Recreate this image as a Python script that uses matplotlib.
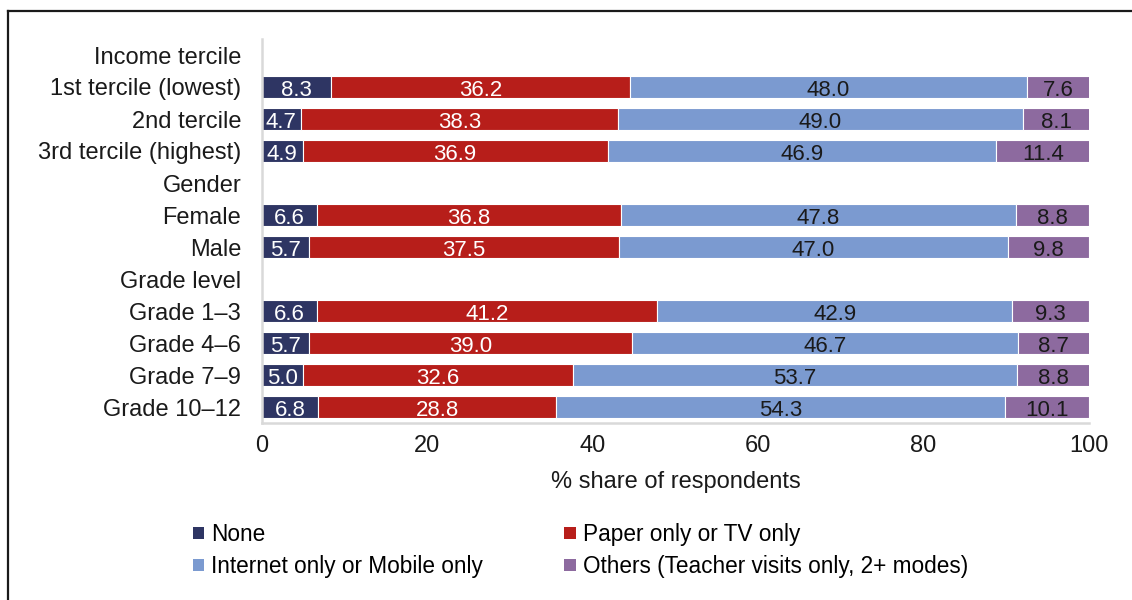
import numpy as np
import matplotlib.pyplot as plt
from matplotlib.lines import Line2D
from matplotlib.patches import Patch

plt.rcParams['font.family'] = ['Liberation Sans', 'DejaVu Sans']

# rows from top to bottom; header rows have no bars
rows = ["Income tercile", "1st tercile (lowest)", "2nd tercile", "3rd tercile (highest)",
        "Gender", "Female", "Male",
        "Grade level", "Grade 1\u20133", "Grade 4\u20136", "Grade 7\u20139", "Grade 10\u201312"]
headers = ["Income tercile", "Gender", "Grade level"]

series = ["None", "Paper only or TV only", "Internet only or Mobile only",
          "Others (Teacher visits only, 2+ modes)"]
none_vals     = [8.3, 4.7, 4.9, 6.6, 5.7, 6.6, 5.7, 5.0, 6.8]
paper_vals    = [36.2, 38.3, 36.9, 36.8, 37.5, 41.2, 39.0, 32.6, 28.8]
internet_vals = [48.0, 49.0, 46.9, 47.8, 47.0, 42.9, 46.7, 53.7, 54.3]
others_vals   = [7.6, 8.1, 11.4, 8.8, 9.8, 9.3, 8.7, 8.8, 10.1]

colors = ["#2E3563", "#B71E1A", "#7B9AD0", "#8D6A9F"]
text_colors = ["white", "white", "#1a1a1a", "#1a1a1a"]

fig = plt.figure(figsize=(11.32, 6.00), dpi=100)
ax = fig.add_axes([262/1132, 1-423/600, (1089-262)/1132, 384/600])

data_rows = [r for r in rows if r not in headers]
ypos = np.array([rows.index(r) for r in data_rows])
vals = [none_vals, paper_vals, internet_vals, others_vals]

left = np.zeros(len(data_rows))
for s, v, c, tc in zip(series, vals, colors, text_colors):
    v = np.array(v)
    ax.barh(ypos, v, left=left, height=0.7, color=c, edgecolor="white",
            linewidth=0.8, label=s)
    # value labels centred in each segment
    for y, l, w in zip(ypos, left, v):
        ax.text(l + w/2, y + 0.04, f"{w:.1f}", ha="center", va="center_baseline",
                color=tc, fontsize=16)
    left += v

ax.set_yticks(range(len(rows)))
ax.set_yticklabels(rows, fontsize=17)
ax.set_ylim(len(rows)-0.5, -0.5)
ax.set_xlim(0, 100)
ax.set_xticks([0, 20, 40, 60, 80, 100])
ax.tick_params(axis="x", labelsize=17, length=0, pad=9, colors="#1a1a1a")
ax.tick_params(axis="y", length=0, pad=15, colors="#1a1a1a")
ax.set_xlabel("% share of respondents", fontsize=17, labelpad=10, color="#1a1a1a")

for sp in ["top", "right"]:
    ax.spines[sp].set_visible(False)
for sp in ["left", "bottom"]:
    ax.spines[sp].set_color("#D9D9D9")
    ax.spines[sp].set_linewidth(1.8)

# legend filled row by row like the original: reorder for column-major fill
order = [0, 2, 1, 3]
handles = [Patch(facecolor=colors[i]) for i in order]
labels = [series[i] for i in order]
fig.legend(handles, labels, loc="upper left", bbox_to_anchor=(193/1132, 1-523/600),
           ncol=2, frameon=False, borderpad=0, borderaxespad=0,
           handlelength=0.5, handleheight=0.5,
           handletextpad=0.3, columnspacing=3.6, labelspacing=0.4,
           prop={"size": 16.3})

# outer frame (top and left only)
fig.add_artist(Line2D([8/1132, 1], [1-11/600, 1-11/600], color="#1a1a1a", lw=1.6))
fig.add_artist(Line2D([8/1132, 8/1132], [0, 1-11/600], color="#1a1a1a", lw=1.6))

fig.savefig("out.png", dpi=100)
